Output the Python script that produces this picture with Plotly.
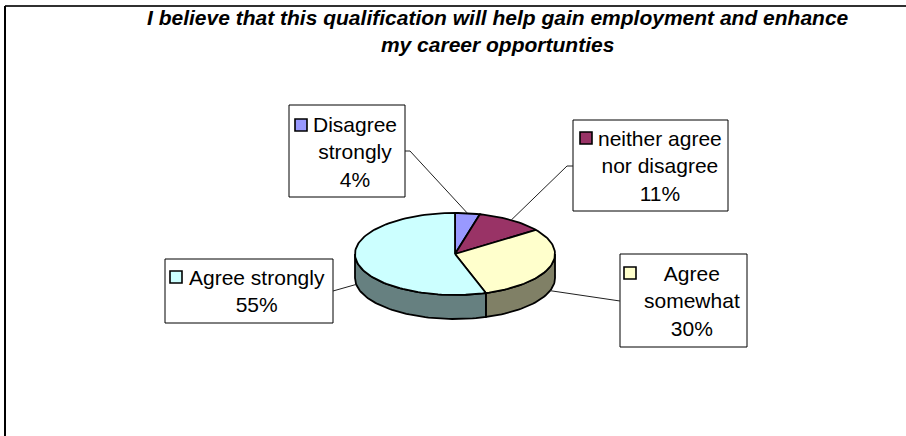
import numpy as np
import plotly.graph_objects as go

# ---- data ----
categories = ["Disagree strongly", "neither agree nor disagree", "Agree somewhat", "Agree strongly"]
label_text = ["Disagree<br>strongly", "neither agree<br>nor disagree", "Agree<br>somewhat", "Agree strongly"]
values = [4, 11, 30, 55]
title_lines = ["I believe that this qualification will help gain employment and enhance",
               "my career opportunties"]

# ---- styles ----
top_colors = ["#9999FF", "#993366", "#FFFFCC", "#CCFFFF"]
side_colors = ["#4D4D80", "#4D1A33", "#808066", "#668080"]
FONT = "Liberation Sans, Arial, sans-serif"
W, H = 906, 436
CX, CY, RX, RY, DEPTH = 455, 254, 100, 41, 24

# label box layout (pixel coords)
boxes = [
    dict(rect=(289, 105, 405, 197), tx=355, ty=152, key=(301, 125), anchor=[(405, 151), (410, 151)]),
    dict(rect=(573, 120, 728, 211), tx=660, ty=166, key=(586, 138), anchor=[(573, 166), (567, 166)]),
    dict(rect=(620, 254, 747, 347), tx=692, ty=301, key=(630, 273), anchor=[(620, 301)]),
    dict(rect=(165, 259, 333, 323), tx=257, ty=291, key=(176, 277), anchor=[(333, 291)]),
]


def ell(theta_deg, dy=0.0):
    t = np.radians(theta_deg)
    return CX + RX * np.sin(t), CY - RY * np.cos(t) + dy


def arc(a0, a1, dy=0.0, n=None):
    if n is None:
        n = max(2, int(abs(a1 - a0) / 2) + 2)
    th = np.linspace(a0, a1, n)
    xs, ys = ell(th, dy)
    return list(xs), list(ys)


total = sum(values)
bounds = np.concatenate([[0], np.cumsum(values)]) / total * 360.0

fig = go.Figure()

# side walls (visible front half: 90..270 deg)
for i in range(len(values)):
    a0, a1 = bounds[i], bounds[i + 1]
    s0, s1 = max(a0, 90), min(a1, 270)
    if s1 > s0:
        xt, yt = arc(s0, s1)
        xb, yb = arc(s1, s0, DEPTH)
        fig.add_trace(go.Scatter(x=xt + xb + [xt[0]], y=yt + yb + [yt[0]], mode="lines",
                                 fill="toself", fillcolor=side_colors[i],
                                 line=dict(color="black", width=1.8),
                                 hoverinfo="skip", showlegend=False))

# top faces
for i in range(len(values)):
    a0, a1 = bounds[i], bounds[i + 1]
    xa, ya = arc(a0, a1)
    fig.add_trace(go.Scatter(x=[CX] + xa + [CX], y=[CY] + ya + [CY], mode="lines",
                             fill="toself", fillcolor=top_colors[i],
                             line=dict(color="black", width=1.8),
                             hoverinfo="skip", showlegend=False))

shapes = []
annotations = []
# outer frame (top and left edges)
shapes.append(dict(type="line", xref="x", yref="y", x0=5, y0=6, x1=W, y1=6,
                   line=dict(color="#303030", width=2)))
shapes.append(dict(type="line", xref="x", yref="y", x0=5, y0=6, x1=5, y1=H,
                   line=dict(color="black", width=2)))

for i, b in enumerate(boxes):
    x0, y0, x1, y1 = b["rect"]
    shapes.append(dict(type="rect", xref="x", yref="y", x0=x0, y0=y0, x1=x1, y1=y1,
                       line=dict(color="black", width=1), fillcolor="white", layer="below"))
    mid = (bounds[i] + bounds[i + 1]) / 2
    dy = DEPTH if 90 < mid < 270 else 0
    px, py = ell(mid, dy)
    pts = b["anchor"] + [(px, py)]
    fig.add_trace(go.Scatter(x=[p[0] for p in pts], y=[p[1] for p in pts], mode="lines",
                             line=dict(color="#202020", width=1), hoverinfo="skip", showlegend=False))
    fig.add_trace(go.Scatter(x=[b["key"][0]], y=[b["key"][1]], mode="markers",
                             marker=dict(symbol="square", size=12, color=top_colors[i],
                                         line=dict(color="black", width=1.6)),
                             hoverinfo="skip", showlegend=False))
    pct = f"{values[i] / total * 100:.0f}%"
    annotations.append(dict(x=b["tx"], y=b["ty"], xref="x", yref="y",
                            text=label_text[i] + "<br>" + pct, showarrow=False,
                            align="center", xanchor="center", yanchor="middle",
                            font=dict(family=FONT, size=21, color="black")))

annotations.append(dict(x=498, y=31, xref="x", yref="y",
                        text="<b><i>" + "<br>".join(title_lines) + "</i></b>",
                        showarrow=False, align="center", xanchor="center", yanchor="middle",
                        font=dict(family=FONT, size=21, color="black")))

fig.update_layout(
    width=W, height=H, autosize=False,
    margin=dict(l=0, r=0, t=0, b=0),
    paper_bgcolor="white", plot_bgcolor="white",
    xaxis=dict(range=[0, W], visible=False, fixedrange=True),
    yaxis=dict(range=[H, 0], visible=False, fixedrange=True),
    shapes=shapes, annotations=annotations, showlegend=False,
)

fig.write_html("out.html", config={"displayModeBar": False},
               post_script="document.body.style.margin='0';document.body.style.overflow='hidden';")
